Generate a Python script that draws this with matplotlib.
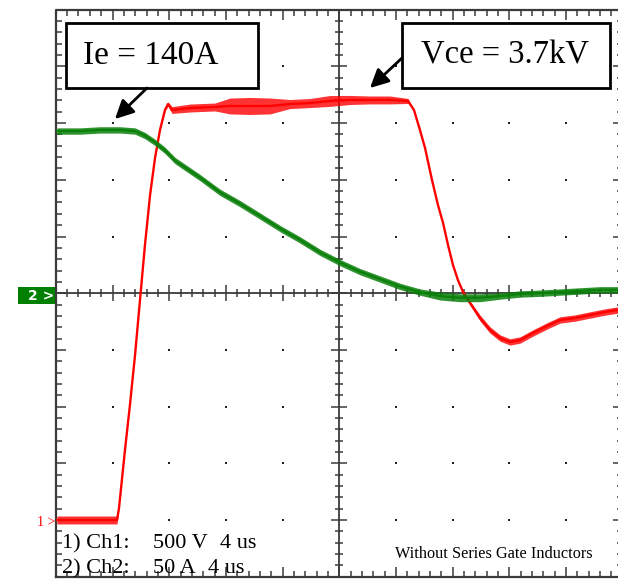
import matplotlib
matplotlib.use("Agg")
import matplotlib.pyplot as plt
from matplotlib.collections import LineCollection
from matplotlib.patches import Rectangle
import numpy as np

# ---- channel settings ----
ch1_volts_per_div = 500.0   # Vce
ch2_amps_per_div = 50.0     # Ie
us_per_div = 4.0
ch1_ground_div = 1.0
ch2_ground_div = 5.0

# ---- Vce trace (time in us, volts, noise half-band in volts) ----
t_red = [0.08, 1.71, 3.12, 4.32, 4.46, 4.88, 5.23, 5.59, 5.94, 6.29, 6.65, 7.00, 7.35,
         7.70, 7.92, 8.20, 9.47, 11.23, 12.29, 13.70, 15.11, 16.52, 17.93, 19.34, 20.75,
         22.17, 23.58, 24.85, 25.27, 25.69, 26.05, 26.54, 26.96, 27.32, 27.67, 28.02,
         28.37, 28.73, 29.22, 29.93, 30.63, 31.34, 32.04, 32.75, 33.66, 34.65, 35.57,
         36.63, 37.69, 38.74, 39.66]
v_red = [0, 0, 0, 0, 106, 617, 1014, 1455, 1940, 2425, 2866, 3192, 3439,
         3615, 3668, 3615, 3633, 3642, 3651, 3651, 3651, 3668, 3677, 3695, 3704,
         3704, 3704, 3695, 3615, 3439, 3280, 2998, 2778, 2619, 2425, 2249,
         2116, 2011, 1914, 1781, 1676, 1605, 1570, 1587, 1649, 1711, 1764,
         1781, 1808, 1834, 1852]
n_red = [35, 35, 35, 35, 0, 0, 0, 0, 0, 0, 0, 0, 0,
         9, 18, 30, 35, 35, 70, 75, 70, 40, 40, 48, 40,
         35, 35, 22, 0, 0, 0, 0, 0, 0, 0, 0,
         0, 9, 18, 26, 28, 28, 28, 28, 28, 28, 28,
         28, 28, 28, 28]

# ---- Ie trace (time in us, amps, noise half-band in amps) ----
t_green = [0.08, 1.71, 3.12, 4.53, 5.59, 6.29, 7.00, 7.70, 8.41, 9.11, 10.17, 11.58,
           12.99, 14.41, 15.82, 17.23, 18.64, 20.05, 21.46, 22.87, 24.28, 25.69,
           27.10, 28.52, 29.93, 31.34, 32.75, 34.16, 35.57, 36.98, 38.39, 39.66]
i_green = [143, 143, 144, 144, 143, 139, 133, 126, 117, 111, 102, 89,
           79, 68, 57, 47, 36, 27, 19, 12.5, 6, 1,
           -2.5, -4, -4, -2.5, -0.7, 0, 1, 2, 3, 3]
n_green = [2.8] * 22 + [3.5, 3.5, 3.5] + [2.8] * 7

W, H = 618, 579
fig = plt.figure(figsize=(W / 100, H / 100), dpi=100)
fig.patch.set_facecolor("white")

DIV = 56.7
left_px, top_px = 55.8, 9.7
bottom_px = top_px + 10 * DIV
ax = fig.add_axes([left_px / W, (H - bottom_px) / H, 10 * DIV / W, 10 * DIV / H])
ax.set_xlim(0, 10)
ax.set_ylim(0, 10)
ax.axis("off")

def px2div(px, py):
    return (px - left_px) / DIV, (bottom_px - py) / DIV

grat = "#3a3a3a"
# border
ax.plot([0, 10, 10, 0, 0], [0, 0, 10, 10, 0], color=grat, lw=1.6, clip_on=False, zorder=2)
# center lines
ax.plot([5, 5], [0, 10], color=grat, lw=1.3, zorder=2)
ax.plot([0, 10], [5, 5], color=grat, lw=1.3, zorder=2)

segs = []
minor_c, major_c = 4 / DIV, 8 / DIV
minor_b, major_b = 6 / DIV, 10 / DIV
for k in range(1, 50):
    p = k * 0.2
    is_major = (k % 5 == 0)
    c = major_c if is_major else minor_c
    b = major_b if is_major else minor_b
    # center line ticks
    segs.append([(p, 5 - c), (p, 5 + c)])
    segs.append([(5 - c, p), (5 + c, p)])
    # border ticks (inward)
    segs.append([(p, 0), (p, b)])
    segs.append([(p, 10), (p, 10 - b)])
    segs.append([(0, p), (b, p)])
    segs.append([(10, p), (10 - b, p)])
ax.add_collection(LineCollection(segs, colors=grat, linewidths=1.1, zorder=2))

# grid dots
dx, dy = [], []
for i in range(1, 10):
    for j in range(1, 10):
        if i == 5 or j == 5:
            continue
        dx.append(i)
        dy.append(j)
ax.scatter(dx, dy, s=3, color="#222222", marker="s", linewidths=0, zorder=2)

# traces
tr = np.array(t_red) / us_per_div
yr = ch1_ground_div + np.array(v_red) / ch1_volts_per_div
nr = np.array(n_red) / ch1_volts_per_div
tg = np.array(t_green) / us_per_div
yg = ch2_ground_div + np.array(i_green) / ch2_amps_per_div
ng = np.array(n_green) / ch2_amps_per_div

red = "#ff0000"
green = "#0a800a"
ax.fill_between(tr, yr - nr, yr + nr, color=red, alpha=0.8, linewidth=0, zorder=3)
ax.plot(tr, yr, color=red, lw=1.7, zorder=3)
ax.fill_between(tg, yg - ng, yg + ng, color=green, alpha=0.85, linewidth=0, zorder=4)
ax.plot(tg, yg, color=green, lw=1.6, zorder=4)

serif = ["Liberation Serif", "DejaVu Serif"]

# annotation boxes
def box(x0p, y0p, x1p, y1p, text, tx_p, size):
    x0, y1 = px2div(x0p, y0p)
    x1, y0 = px2div(x1p, y1p)
    ax.add_patch(Rectangle((x0, y0), x1 - x0, y1 - y0, facecolor="white",
                           edgecolor="black", lw=2.0, zorder=6))
    tx, _ = px2div(tx_p, 0)
    ax.text(tx, (y0 + y1) / 2, text, family=serif, fontsize=size,
            ha="center", va="center", zorder=7)

box(66, 23, 258, 88, "Ie = 140A", 151, 24)
box(402, 23, 610, 88, "Vce = 3.7kV", 505, 23.5)

def arrow(tail, head):
    ax.annotate("", xy=px2div(*head), xytext=px2div(*tail),
                arrowprops=dict(arrowstyle="-|>", color="black", lw=2.0,
                                mutation_scale=28, shrinkA=0, shrinkB=0),
                zorder=7)

arrow((147, 88), (115, 119))
arrow((402, 58), (370, 88))

# channel info text
def txt(px, py, s, size, **kw):
    x, y = px2div(px, py)
    ax.text(x, y, s, family=serif, fontsize=size, va="baseline", ha="left",
            zorder=7, clip_on=False, **kw)

txt(62, 548, "1) Ch1:", 16)
txt(153, 548, "500 V", 16)
txt(220, 548, "4 us", 16)
txt(62, 573, "2) Ch2:", 16)
txt(153, 573, "50 A", 16)
txt(208, 573, "4 us", 16)
txt(395, 558, "Without Series Gate Inductors", 11.7)

# ground markers
x1m, y1m = px2div(55, 523)
ax.text(x1m, y1m, "1 >", family=serif, fontsize=10, color=red,
        ha="right", va="center", clip_on=False, zorder=7)

bx0, by1 = px2div(18, 287)
bx1, by0 = px2div(55, 304)
ax.add_patch(Rectangle((bx0, by0), bx1 - bx0, by1 - by0, facecolor="#008000",
                       edgecolor="none", clip_on=False, zorder=6))
tx2, ty2 = px2div(54, 296)
ax.text(tx2, ty2, "2 >", family=["DejaVu Sans"], fontsize=10, fontweight="bold",
        color="white", ha="right", va="center", clip_on=False, zorder=7)

fig.savefig("out.png", dpi=100, facecolor="white")
